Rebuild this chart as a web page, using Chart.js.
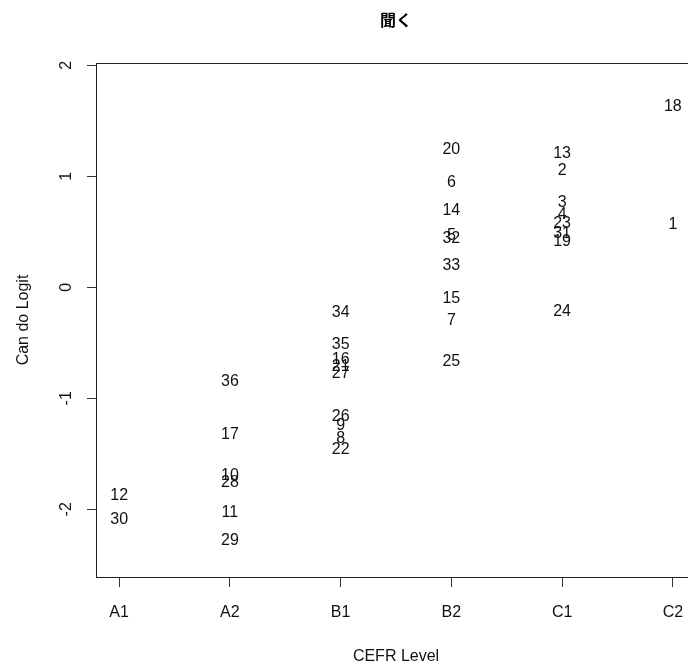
<!DOCTYPE html>
<html>
<head>
<meta charset="utf-8">
<script src="https://cdn.jsdelivr.net/npm/chart.js@4/dist/chart.umd.min.js"></script>
<style>
  html, body { margin: 0; padding: 0; background: #fff; overflow: hidden; }
  #wrap { width: 700px; height: 668px; position: relative; }
</style>
</head>
<body>
<div id="wrap"><canvas id="c"></canvas></div>
<script>
// CEFR levels (x categories)
const levels = ['A1', 'A2', 'B1', 'B2', 'C1', 'C2'];
// Can-do item numbers
const itemIds = [12, 30,
  36, 17, 10, 28, 11, 29,
  34, 35, 16, 21, 27, 26, 9, 8, 22,
  20, 6, 14, 5, 32, 33, 15, 7, 25,
  13, 2, 3, 4, 23, 31, 19, 24,
  18, 1];
// CEFR level of each item
const itemLevels = ['A1', 'A1',
  'A2', 'A2', 'A2', 'A2', 'A2', 'A2',
  'B1', 'B1', 'B1', 'B1', 'B1', 'B1', 'B1', 'B1', 'B1',
  'B2', 'B2', 'B2', 'B2', 'B2', 'B2', 'B2', 'B2', 'B2',
  'C1', 'C1', 'C1', 'C1', 'C1', 'C1', 'C1', 'C1',
  'C2', 'C2'];
// Can-do logit of each item
const itemLogits = [-1.87, -2.08,
  -0.84, -1.32, -1.69, -1.75, -2.02, -2.27,
  -0.22, -0.51, -0.64, -0.71, -0.77, -1.16, -1.24, -1.35, -1.45,
  1.25, 0.95, 0.70, 0.47, 0.45, 0.20, -0.09, -0.29, -0.66,
  1.21, 1.06, 0.77, 0.66, 0.58, 0.49, 0.42, -0.21,
  1.64, 0.57];
const yTicks = [-2, -1, 0, 1, 2];

const points = itemIds.map((id, i) => ({ x: levels.indexOf(itemLevels[i]) + 1, y: itemLogits[i] }));

const FONT = "'Liberation Sans', Arial, sans-serif";

const labelPlugin = {
  id: 'itemLabels',
  afterDatasetsDraw(chart) {
    const ctx = chart.ctx;
    const meta = chart.getDatasetMeta(0);
    ctx.save();
    ctx.font = '16px ' + FONT;
    ctx.fillStyle = '#111';
    ctx.textAlign = 'center';
    ctx.textBaseline = 'middle';
    meta.data.forEach((el, i) => {
      ctx.fillText(String(itemIds[i]), el.x, el.y + 1);
    });
    ctx.restore();
  }
};

const boxPlugin = {
  id: 'boxAndTitle',
  afterDraw(chart) {
    const { ctx, chartArea } = chart;
    ctx.save();
    ctx.strokeStyle = '#222';
    ctx.lineWidth = 1;
    const l = Math.round(chartArea.left) - 0.5;
    const t = Math.round(chartArea.top) + 0.5;
    const r = Math.round(chartArea.right) + 0.5;
    const b = Math.round(chartArea.bottom) + 0.5;
    ctx.strokeRect(l, t, r - l, b - t);
    ctx.font = "bold 16px 'Noto Sans CJK JP', sans-serif";
    ctx.fillStyle = '#000';
    ctx.textAlign = 'center';
    ctx.textBaseline = 'middle';
    ctx.fillText('聞く', (chartArea.left + chartArea.right) / 2, 20);
    ctx.restore();
  }
};

new Chart(document.getElementById('c'), {
  type: 'scatter',
  data: {
    datasets: [{
      data: points,
      pointRadius: 0,
      pointHoverRadius: 0,
      showLine: false
    }]
  },
  options: {
    responsive: true,
    maintainAspectRatio: false,
    animation: false,
    events: [],
    layout: { padding: { left: 0, top: 63, right: 5, bottom: 0 } },
    plugins: { legend: { display: false }, tooltip: { enabled: false }, title: { display: false } },
    scales: {
      x: {
        type: 'linear',
        min: 0.8,
        max: 6.2,
        afterBuildTicks: (s) => { s.ticks = levels.map((_, i) => ({ value: i + 1 })); },
        afterFit: (s) => { s.height = 91; },
        ticks: {
          autoSkip: false,
          maxRotation: 0,
          padding: 16,
          color: '#111',
          font: { size: 16, family: FONT },
          callback: (v) => levels[Math.round(v) - 1] || ''
        },
        grid: { drawOnChartArea: false, drawTicks: true, tickLength: 10, color: '#333' },
        border: { display: false },
        title: {
          display: true,
          text: 'CEFR Level',
          color: '#111',
          font: { size: 16, family: FONT },
          padding: { top: 0, bottom: 2 }
        }
      },
      y: {
        type: 'linear',
        min: -2.61,
        max: 2.02,
        afterBuildTicks: (s) => { s.ticks = yTicks.map(v => ({ value: v })); },
        afterFit: (s) => { s.width = 97; },
        ticks: {
          autoSkip: false,
          minRotation: 90,
          maxRotation: 90,
          crossAlign: 'center',
          padding: 13,
          color: '#111',
          font: { size: 16, family: FONT },
          callback: (v) => String(v)
        },
        grid: { drawOnChartArea: false, drawTicks: true, tickLength: 10, color: '#333' },
        border: { display: false },
        title: {
          display: true,
          text: 'Can do Logit',
          color: '#111',
          font: { size: 16, family: FONT },
          padding: { top: 14, bottom: 0 }
        }
      }
    }
  },
  plugins: [labelPlugin, boxPlugin]
});
</script>
</body>
</html>
